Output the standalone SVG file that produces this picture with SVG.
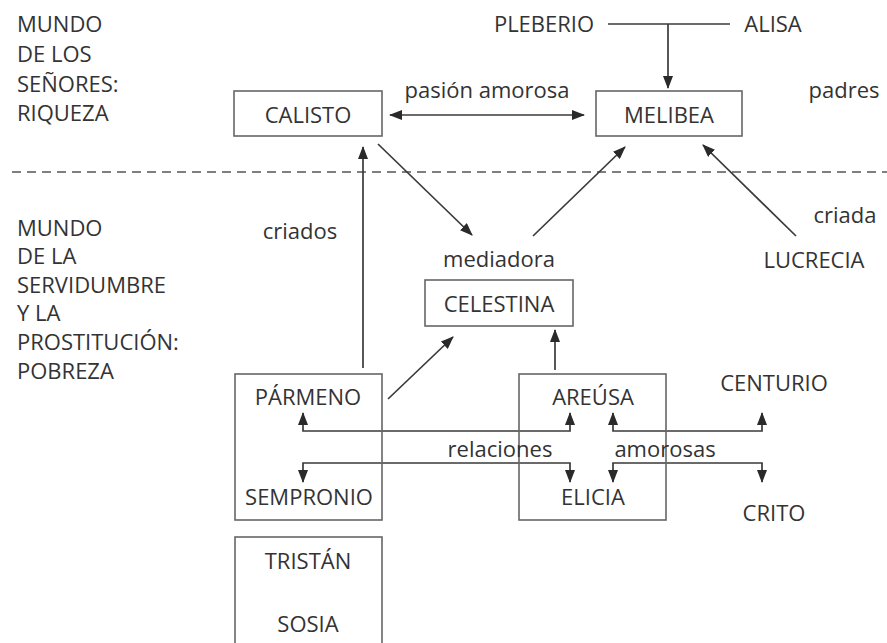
<svg xmlns="http://www.w3.org/2000/svg" width="887" height="643" viewBox="0 0 887 643">
<defs>
<marker id="ah" markerUnits="userSpaceOnUse" markerWidth="13" markerHeight="10" refX="12" refY="5" orient="auto-start-reverse" viewBox="0 0 13 10">
<path d="M0,0 L13,5 L0,10 z" fill="#2a2a2a"/>
</marker>
<style>
text{font-family:"Open Sans","Noto Sans","Liberation Sans",sans-serif;font-size:22px;font-weight:500;fill:#333}
.m{text-anchor:middle}
.box{fill:none;stroke:#666;stroke-width:1.6}
.ln{fill:none;stroke:#3a3a3a;stroke-width:1.7}
.ar{fill:none;stroke:#3a3a3a;stroke-width:1.7;marker-end:url(#ah)}
.ar2{fill:none;stroke:#3a3a3a;stroke-width:1.7;marker-end:url(#ah);marker-start:url(#ah)}
</style>
</defs>
<rect width="887" height="643" fill="#fff"/>
<g id="labels-left">
<text x="17" y="32">MUNDO</text>
<text x="17" y="62">DE LOS</text>
<text x="17" y="92">SEÑORES:</text>
<text x="17" y="121">RIQUEZA</text>
<text x="17" y="236">MUNDO</text>
<text x="17" y="264">DE LA</text>
<text x="17" y="293">SERVIDUMBRE</text>
<text x="17" y="321">Y LA</text>
<text x="17" y="350">PROSTITUCIÓN:</text>
<text x="17" y="379">POBREZA</text>
</g>
<line x1="12" y1="172" x2="887" y2="172" stroke="#555" stroke-width="1.6" stroke-dasharray="9,6"/>
<g id="connectors">
<path class="ln" d="M608,24 H730"/>
<path class="ar" d="M668,24 V88"/>
<path class="ar2" d="M390,115 H584"/>
<path class="ar" d="M363,368 V147"/>
<path class="ar" d="M378,144 L472,235"/>
<path class="ar" d="M533,236 L625,147"/>
<path class="ar" d="M796,236 L703,145"/>
<path class="ar" d="M388,399 L453,337"/>
<path class="ar" d="M555,370 V330"/>
<path class="ar2" d="M303,413 V431 H570 V413"/>
<path class="ar2" d="M613,413 V431 H762 V413"/>
<path class="ar2" d="M303,482 V463 H570 V482"/>
<path class="ar2" d="M613,482 V463 H762 V482"/>
</g>
<g id="pleberio"><text class="m" x="544" y="32">PLEBERIO</text></g>
<g id="alisa"><text class="m" x="773" y="32">ALISA</text></g>
<g id="padres"><text class="m" x="844" y="98">padres</text></g>
<g id="pasion"><text class="m" x="487" y="98">pasión amorosa</text></g>
<g id="calisto"><rect class="box" x="234" y="91" width="148" height="45"/><text class="m" x="308" y="123">CALISTO</text></g>
<g id="melibea"><rect class="box" x="596" y="91" width="146" height="45"/><text class="m" x="669" y="123">MELIBEA</text></g>
<g id="criados"><text class="m" x="300" y="239">criados</text></g>
<g id="mediadora"><text class="m" x="499" y="267">mediadora</text></g>
<g id="criada"><text class="m" x="845" y="223">criada</text></g>
<g id="lucrecia"><text class="m" x="814" y="268">LUCRECIA</text></g>
<g id="celestina"><rect class="box" x="425" y="280" width="148" height="46"/><text class="m" x="499" y="312">CELESTINA</text></g>
<g id="parmeno-sempronio"><rect class="box" x="235" y="374" width="147" height="146"/><text class="m" x="308" y="405">PÁRMENO</text><text class="m" x="309" y="505">SEMPRONIO</text></g>
<g id="areusa-elicia"><rect class="box" x="519" y="374" width="147" height="146"/><text class="m" x="593" y="405">AREÚSA</text><text class="m" x="593" y="505">ELICIA</text></g>
<g id="centurio"><text class="m" x="774" y="391">CENTURIO</text></g>
<g id="crito"><text class="m" x="774" y="521">CRITO</text></g>
<g id="relaciones"><text class="m" x="500" y="457">relaciones</text></g>
<g id="amorosas"><text class="m" x="665" y="457">amorosas</text></g>
<g id="tristan-sosia"><rect class="box" x="235" y="537" width="147" height="110"/><text class="m" x="308" y="569">TRISTÁN</text><text class="m" x="308" y="632">SOSIA</text></g>
</svg>
